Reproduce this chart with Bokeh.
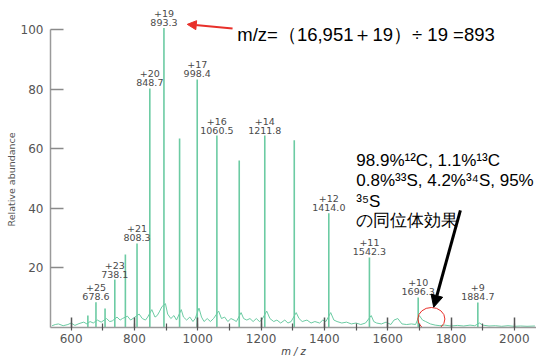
from bokeh.plotting import figure
from bokeh.models import (Range1d, ColumnDataSource, Arrow, NormalHead, Label, Title,
                          FixedTicker, SingleIntervalTicker)
from bokeh.embed import file_html
from bokeh.resources import INLINE
from bokeh.core.properties import value

# ---- data ----
peak_mz = [653.0, 678.6, 707.3, 738.1, 771.5, 808.3, 848.7, 893.3, 942.7, 998.4,
           1060.5, 1131.1, 1211.8, 1304.9, 1414.0, 1542.3, 1696.3, 1884.7]
peak_rel = [4.0, 8.5, 6.4, 16.1, 24.5, 28.2, 80.2, 100.5, 63.4, 83.2,
            64.4, 56.0, 64.4, 62.8, 38.3, 23.5, 10.1, 8.4]

label_charge = [25, 23, 21, 20, 19, 17, 16, 14, 12, 11, 10, 9]
label_mz = [678.6, 738.1, 808.3, 848.7, 893.3, 998.4, 1060.5, 1211.8, 1414.0,
            1542.3, 1696.3, 1884.7]

noise_mz = [540, 550, 560, 575, 590, 600, 612, 625, 640, 650, 660, 670, 683, 695,
            712, 722, 730, 745, 755, 762, 778, 788, 798, 815, 825, 835, 842, 855,
            865, 872, 880, 887, 898, 905, 915, 925, 933, 948, 955, 965, 975, 985,
            992, 1004, 1012, 1020, 1030, 1040, 1050, 1066, 1075, 1085, 1095, 1105,
            1115, 1122, 1137, 1145, 1155, 1165, 1175, 1185, 1195, 1202, 1218, 1228,
            1240, 1250, 1262, 1275, 1285, 1295, 1311, 1320, 1330, 1345, 1358, 1370,
            1385, 1395, 1405, 1420, 1430, 1440, 1455, 1470, 1485, 1500, 1515, 1530,
            1548, 1556, 1565, 1580, 1595, 1610, 1620, 1632, 1645, 1660, 1675, 1688,
            1700, 1710, 1720, 1735, 1750, 1765, 1780, 1800, 1820, 1840, 1860, 1875,
            1890, 1900, 1920, 1940, 1960, 1980, 2000, 2020, 2040, 2065]
noise_val = [0.6, 1.0, 1.2, 0.6, 1.0, 1.5, 0.7, 1.3, 1.8, 1.2, 2.0, 1.5, 2.5, 1.8,
             3.0, 2.0, 2.2, 3.5, 2.5, 3.0, 3.8, 2.5, 3.2, 4.5, 3.0, 2.5, 3.5, 6.0,
             3.5, 4.0, 5.5, 7.0, 8.0, 4.5, 3.0, 4.0, 2.5, 6.0, 3.5, 2.5, 3.5, 2.0,
             3.0, 6.5, 3.5, 2.0, 3.0, 2.0, 3.0, 5.5, 3.0, 3.5, 2.0, 3.0,
             2.5, 2.0, 5.0, 3.0, 2.5, 3.0, 2.0, 3.0, 2.0, 2.5, 5.5, 3.0,
             2.0, 2.5, 1.5, 2.5, 1.5, 2.0, 5.0, 3.0, 2.0, 2.5, 1.5, 2.0,
             1.5, 2.5, 2.0, 5.0, 2.5, 2.0, 1.5, 1.8, 1.2, 1.5, 1.0, 1.5,
             4.0, 2.0, 1.5, 1.2, 1.8, 1.0, 2.5, 3.0, 1.2, 1.0, 1.2, 1.0,
             4.0, 2.5, 2.0, 1.2, 0.8, 0.6, 0.8, 0.5, 0.7, 0.5, 0.8, 0.6,
             1.5, 0.8, 0.5, 0.6, 0.4, 0.6, 0.4, 0.5, 0.4, 0.5]

y_ticks = [20, 40, 60, 80, 100]

equation_text = "m/z=（16,951＋19）÷ 19 =893"
isotope_lines = ["98.9%¹²C, 1.1%¹³C", "0.8%³³S, 4.2%³⁴S, 95%", "³⁵S", "の同位体効果"]
y_label_text = "Relative abundance"

# ---- figure ----
GREEN = "#6ccba3"
p = figure(width=536, height=359, output_backend="svg", toolbar_location=None,
           x_range=Range1d(535, 2070), y_range=Range1d(0, 109.7),
           min_border_left=50, min_border_right=0, min_border_top=0,
           min_border_bottom=32)
p.title.visible = False
p.outline_line_color = None
p.grid.visible = False
p.background_fill_color = "white"
p.border_fill_color = "white"

# x axis
p.xaxis.ticker = SingleIntervalTicker(interval=200, num_minor_ticks=2)
p.xaxis.axis_line_color = "#9a9a9a"
p.xaxis.axis_line_width = 1.5
p.xaxis.major_tick_in = 10
p.xaxis.major_tick_out = 0
p.xaxis.major_tick_line_color = "#555555"
p.xaxis.major_tick_line_width = 1.5
p.xaxis.minor_tick_in = 4
p.xaxis.minor_tick_out = 3
p.xaxis.minor_tick_line_color = "#555555"
p.xaxis.minor_tick_line_width = 1.2
p.xaxis.major_label_text_font = "DejaVu Sans"
p.xaxis.major_label_text_font_size = "12px"
p.xaxis.major_label_text_color = "#555555"
p.xaxis.major_label_standoff = 3
p.xaxis.axis_label = "m / z"
p.xaxis.axis_label_text_font = "DejaVu Sans"
p.xaxis.axis_label_text_font_style = "italic"
p.xaxis.axis_label_text_font_size = "10px"
p.xaxis.axis_label_text_color = "#444444"
p.xaxis.axis_label_standoff = 0

# y axis
p.yaxis.ticker = FixedTicker(ticks=y_ticks)
p.yaxis.bounds = (0, 100)
p.yaxis.axis_line_color = "#9a9a9a"
p.yaxis.axis_line_width = 1.5
p.yaxis.major_tick_in = 13
p.yaxis.major_tick_out = 0
p.yaxis.major_tick_line_color = "#8a8a8a"
p.yaxis.major_tick_line_width = 1.5
p.yaxis.minor_tick_line_color = None
p.yaxis.major_label_text_font = "DejaVu Sans"
p.yaxis.major_label_text_font_size = "12px"
p.yaxis.major_label_text_color = "#555555"
p.yaxis.major_label_standoff = 7

# y axis title, centred on the 0-100 part of the axis as in the reference
p.add_layout(Title(text=y_label_text, align="left", offset=101, standoff=2,
                   text_font="DejaVu Sans", text_font_size="9.5px",
                   text_font_style="normal", text_color="#555555"), "left")

# spectrum
p.line(noise_mz, noise_val, line_color=GREEN, line_width=1)
p.segment(x0=peak_mz, y0=[0] * len(peak_mz), x1=peak_mz, y1=peak_rel,
          line_color=GREEN, line_width=1.6)

# peak labels
height_of = dict(zip(peak_mz, peak_rel))
lab_src = ColumnDataSource(dict(
    x=label_mz,
    y=[height_of[m] for m in label_mz],
    charge=[f"+{c}" for c in label_charge],
    mz=[f"{m:.1f}" for m in label_mz],
))
common = dict(x="x", y="y", source=lab_src, text_font=value("DejaVu Sans"),
              text_font_size="9.5px", text_color="#4a4a4a", text_align="center",
              text_baseline="middle")
p.text(text="mz", y_offset=-5.5, **common)
p.text(text="charge", y_offset=-14.5, **common)

# annotations
p.add_layout(Arrow(end=NormalHead(size=9, fill_color="#e8302a", line_color="#e8302a"),
                   x_start=1110, y_start=100.3, x_end=967, y_end=101.7,
                   line_color="#e8302a", line_width=2))
p.add_layout(Label(x=1125, y=98.3, text=equation_text,
                   text_font="Liberation Sans", text_font_size="18.5px",
                   text_color="black", text_baseline="alphabetic"))

iso_y = [56.0, 49.2, 42.3, 35.9]
for line_txt, yy in zip(isotope_lines, iso_y):
    p.add_layout(Label(x=1501, y=yy, text=line_txt,
                       text_font="Liberation Sans", text_font_size="17px",
                       text_color="black", text_baseline="alphabetic"))

p.add_layout(Arrow(end=NormalHead(size=12, fill_color="black", line_color="black"),
                   x_start=1829.6, y_start=39.3, x_end=1745.3, y_end=6.8,
                   line_color="black", line_width=3))
p.ellipse(x=[1738], y=[2.85], width=27, height=23, width_units="screen",
          height_units="screen", fill_color=None, line_color="#e8302a", line_width=1)

open("out.html", "w").write(file_html(p, INLINE))
